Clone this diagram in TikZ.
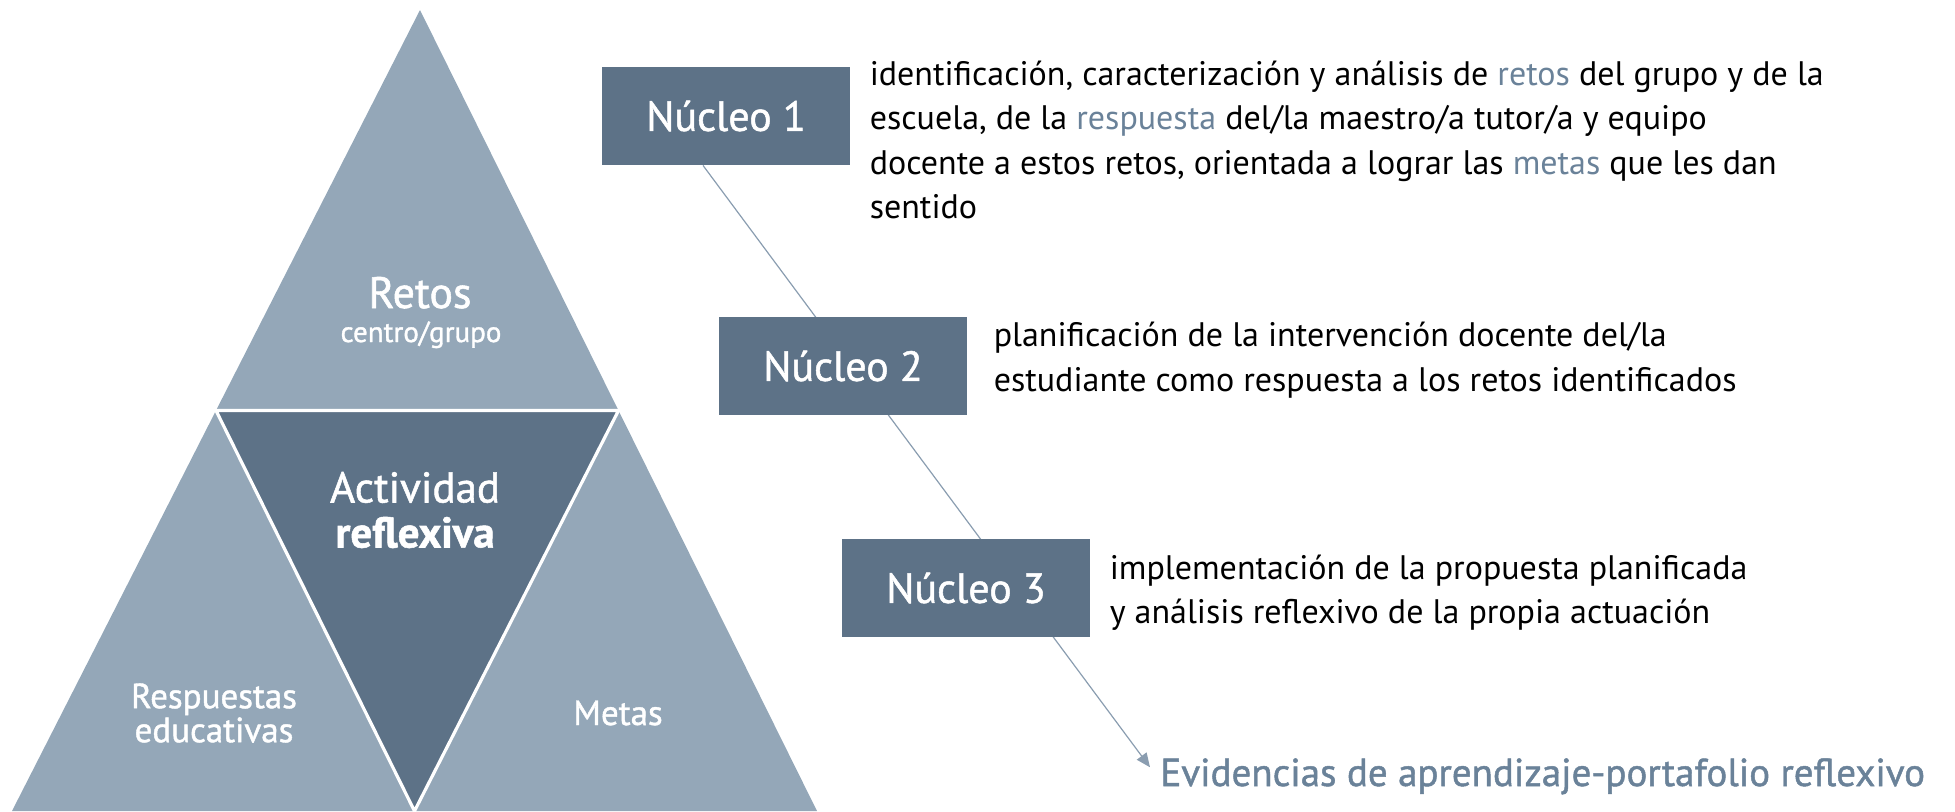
\documentclass[tikz,border=0pt]{standalone}
\usepackage{fontspec}
\setmainfont{PT Sans}
\newfontfamily\medfont{PT Sans}[FakeBold=1.2]
\usetikzlibrary{positioning,arrows.meta,backgrounds}

\definecolor{triLight}{HTML}{94A7B8}
\definecolor{triDark}{HTML}{5D7287}
\definecolor{flowLine}{HTML}{8A9DB0}
\definecolor{accent}{HTML}{6A8299}

\begin{document}
\begin{tikzpicture}[x=0.5pt,y=-0.5pt,
  nucleo/.style={fill=triDark, text=white, minimum width=124pt, minimum height=49pt,
    inner sep=0pt, font=\medfont\fontsize{21}{24}\selectfont},
  desc/.style={align=left, inner sep=0pt, font=\fontsize{17}{22.2}\selectfont},
  trilabel/.style={text=white, align=center, inner sep=0pt},
  flow/.style={draw=flowLine, line width=0.6pt, -{Triangle[length=7pt,width=6pt]}}]

  \useasboundingbox (0,0) rectangle (1955,811);

  % pyramid
  \fill[triLight] (420,10) -- (12,811) -- (817,811) -- cycle;
  \fill[triDark] (216,410.5) -- (618.5,410.5) -- (414.5,811) -- cycle;
  \draw[white, line width=1.6pt] (216,410.5) -- (618.5,410.5) -- (414.5,811) -- cycle;

  \node[trilabel, anchor=base, font=\medfont\fontsize{22}{24}\selectfont] (retos) at (420,308) {Retos};
  \node[trilabel, anchor=base, font=\medfont\fontsize{14.5}{16}\selectfont] (grupo) at (421,342) {centro/grupo};
  \node[trilabel, font=\medfont\fontsize{21.5}{22.5}\selectfont] (actividad) at (415,510)
    {Actividad\\\textbf{reflexiva}};
  \node[trilabel, font=\medfont\fontsize{17.5}{17}\selectfont] (respuestas) at (214,713)
    {Respuestas\\educativas};
  \node[trilabel, anchor=base, font=\medfont\fontsize{17.5}{20}\selectfont] (metas) at (618,725) {Metas};

  % nucleos
  \node[nucleo] (nucleo1) at (726,116) {Núcleo 1};
  \node[nucleo] (nucleo2) at (843,366) {Núcleo 2};
  \node[nucleo] (nucleo3) at (966,588) {Núcleo 3};

  \node[desc, right=9.5pt of nucleo1.north east, anchor=north west, yshift=3pt] (desc1)
    {identificación, caracterización y análisis de \textcolor{accent}{retos} del grupo y de la\\
     escuela, de la \textcolor{accent}{respuesta} del/la maestro/a tutor/a y equipo\\
     docente a estos retos, orientada a lograr las \textcolor{accent}{metas} que les dan\\
     sentido};
  \node[desc, right=13pt of nucleo2, yshift=3pt] (desc2)
    {planificación de la intervención docente del/la\\
     estudiante como respuesta a los retos identificados};
  \node[desc, right=9.5pt of nucleo3, yshift=-2.5pt] (desc3)
    {implementación de la propuesta planificada\\
     y análisis reflexivo de la propia actuación};

  \node[anchor=base west, inner xsep=5pt, inner ysep=0pt, text=accent,
        font=\medfont\fontsize{19.5}{22}\selectfont] (evid) at (1150,786)
    {Evidencias de aprendizaje-portafolio reflexivo};

  \begin{scope}[on background layer]
    \draw[flow] ([xshift=-11.5pt]nucleo1.south) -- ([yshift=4.5pt]evid.west);
  \end{scope}
\end{tikzpicture}
\end{document}
